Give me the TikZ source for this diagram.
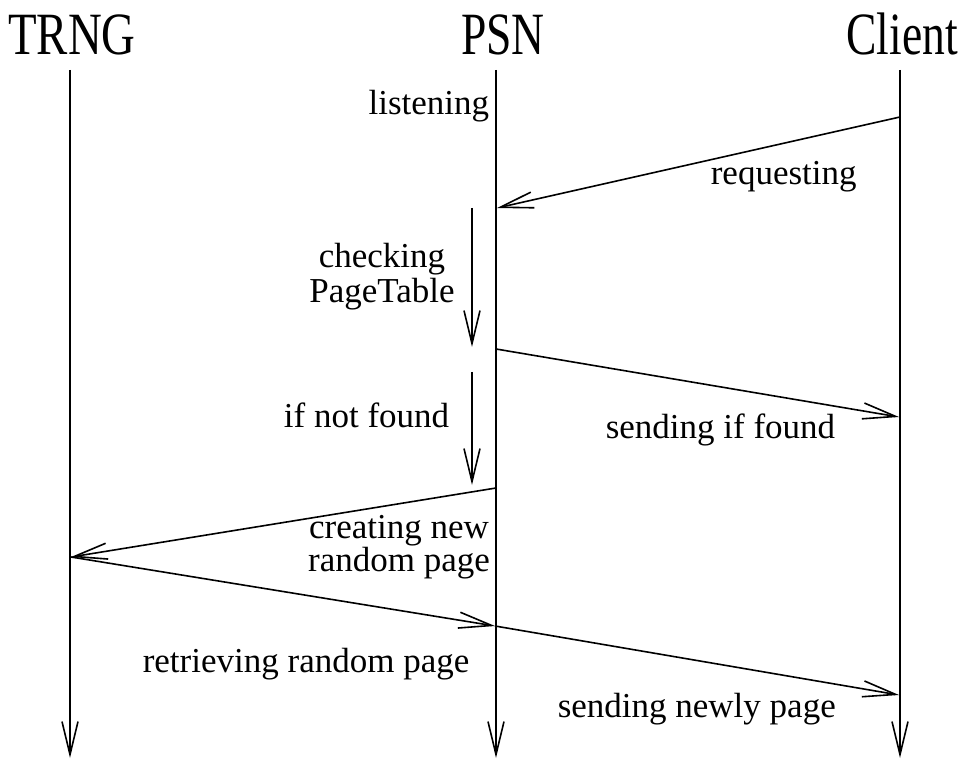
\documentclass[tikz,border=0pt]{standalone}
\usepackage{fontspec}
\usepackage{graphicx}
\setmainfont{Liberation Serif}
\usetikzlibrary{arrows.meta}
\begin{document}
\begin{tikzpicture}[x=1pt,y=-1pt,
  line width=1.6pt,
  msg/.style={-{Straight Barb[length=33pt,width=16pt,line width=1.6pt]}},
  lbl/.style={inner sep=0pt,font=\fontsize{35}{35}\selectfont},
  ttl/.style={inner sep=0pt,font=\fontsize{60}{60}\selectfont}]
\useasboundingbox (0,0) rectangle (959,759);
% titles
\node[ttl,anchor=base] (trng) at (72,55) {\scalebox{0.78}[1]{TRNG}};
\node[ttl,anchor=base] (psn) at (503,55) {\scalebox{0.76}[1]{PSN}};
\node[ttl,anchor=base] (client) at (902,55) {\scalebox{0.76}[1]{Client}};
% lifelines
\coordinate (tTop) at (70,70);   \coordinate (tBot) at (70,758);
\coordinate (pTop) at (496,70);  \coordinate (pBot) at (496,758);
\coordinate (cTop) at (900,70);  \coordinate (cBot) at (900,758);
\draw[msg] (tTop) -- (tBot);
\draw[msg] (pTop) -- (pBot);
\draw[msg] (cTop) -- (cBot);
% message points
\coordinate (c1) at (900,117);
\coordinate (p1) at (497,208);
\coordinate (p2) at (496,349);
\coordinate (c2) at (899,417);
\coordinate (p3) at (496,488);
\coordinate (t1) at (71,557);
\coordinate (p4) at (495,626);
\coordinate (c3) at (899,695);
% local arrows
\coordinate (a1s) at (472,208); \coordinate (a1e) at (472,347);
\coordinate (a2s) at (472,372); \coordinate (a2e) at (472,485);
% messages
\draw[msg] (c1) -- (p1);
\draw[msg] (p2) -- (c2);
\draw[msg] (p3) -- (t1);
\draw[msg] (t1) -- (p4);
\draw[msg] (p4) -- (c3);
\draw[msg] (a1s) -- (a1e);
\draw[msg] (a2s) -- (a2e);
% labels
\node[lbl,anchor=base east] (listening) at (490,115) {listening};
\node[lbl,anchor=base west] (requesting) at (710,185) {requesting};
\node[lbl,align=center,anchor=center] (checking) at (382,277) {checking\\PageTable};
\node[lbl,anchor=base east] (notfound) at (450,428) {if not found};
\node[lbl,anchor=base west] (found) at (605,438) {sending if found};
\node[lbl,align=center,anchor=center,font=\fontsize{35}{24}\selectfont] (creating) at (399,547) {creating new\\random page};
\node[lbl,anchor=base west] (retrieving) at (142,672) {retrieving random page};
\node[lbl,anchor=base west] (newly) at (557,717) {sending newly page};
\end{tikzpicture}
\end{document}
